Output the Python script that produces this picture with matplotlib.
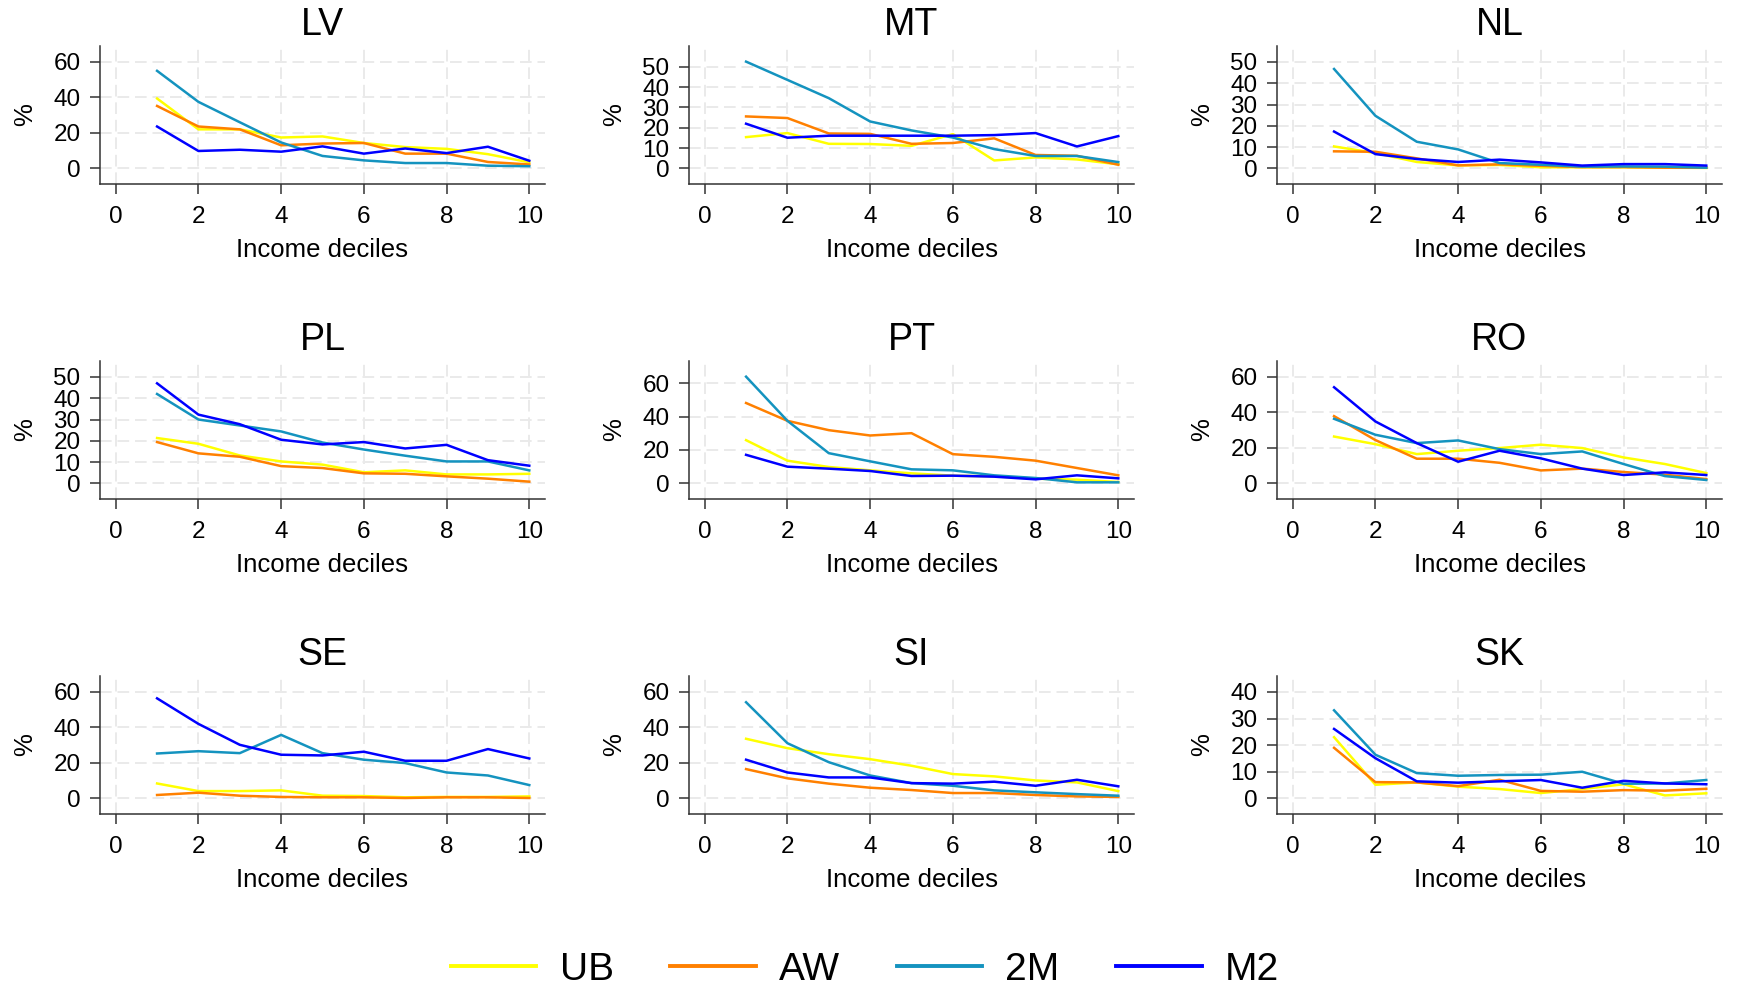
import numpy as np
import matplotlib.pyplot as plt

plt.rcParams['font.family'] = ['Liberation Sans', 'DejaVu Sans']

# Data: share (%) by income decile, four indicators per country
deciles = np.arange(1, 11)
series = ["UB", "AW", "2M", "M2"]
colors = ["#ffff00", "#ff8000", "#1493bf", "#0000ff"]

lv = {"UB": [39.4, 22, 22, 17.4, 18, 14.3, 12, 11, 8, 3.4],
      "AW": [35.2, 23.6, 22, 13, 14, 14.3, 8.3, 8.3, 3.6, 2.2],
      "2M": [55, 37.5, 26, 14.6, 7, 4.5, 3, 3, 1.5, 1.2],
      "M2": [23.6, 9.8, 10.5, 9.4, 12.4, 8.3, 11.2, 8.6, 12.2, 4.3]}
mt = {"UB": [15.4, 17.4, 12.1, 12, 11.1, 16.9, 3.9, 5.4, 4.4, 2],
      "AW": [25.6, 24.8, 17.2, 17, 12.1, 12.5, 14.8, 6.6, 6.2, 1.8],
      "2M": [52.6, 43.6, 34.6, 23.1, 18.7, 15.2, 9.5, 6.1, 6.1, 3.1],
      "M2": [22, 15.1, 16.1, 16.1, 16.1, 16.1, 16.4, 17.4, 10.8, 15.9]}
nl = {"UB": [10.3, 7.2, 3, 1.4, 1.6, 0.5, 0.5, 0.5, 0.3, 0.2],
      "AW": [8, 7.8, 4.7, 1.4, 1.9, 1.2, 0.6, 0.6, 0.3, 0.3],
      "2M": [46.7, 24.7, 12.5, 8.9, 2.5, 1.7, 0.8, 0.9, 0.8, 0.3],
      "M2": [17.3, 6.7, 4.4, 3, 4.1, 2.8, 1.3, 2, 2, 1.3]}
pl = {"UB": [21.3, 18.6, 13.1, 10.3, 8.8, 5.2, 6.1, 4.2, 4.2, 4.5],
      "AW": [19.4, 14.1, 12.5, 8.1, 7.2, 4.7, 4.5, 3.3, 2.2, 0.8],
      "2M": [42, 30, 27.2, 24.4, 19.2, 15.9, 13, 10.3, 10.3, 6.1],
      "M2": [47, 32.3, 27.8, 20.5, 18.3, 19.4, 16.4, 18.1, 10.9, 8.3]}
pt = {"UB": [25.9, 13.6, 9.8, 7.8, 6, 4.6, 4.2, 2.8, 2.2, 0.8],
      "AW": [48.2, 37.5, 31.9, 28.7, 30.1, 17.5, 15.9, 13.6, 9.2, 4.8],
      "2M": [64, 37.5, 18.1, 13.2, 8.4, 7.8, 4.8, 3.2, 0.6, 0.6],
      "M2": [17.1, 10, 8.8, 7.4, 4.4, 4.6, 4, 2.4, 4.8, 3]}
ro = {"UB": [26.4, 22.1, 16.5, 18.4, 19.9, 21.8, 19.9, 14.6, 10.9, 5.8],
      "AW": [37.9, 24.4, 13.9, 13.9, 11.6, 7.3, 8.3, 6.4, 4.9, 2.4],
      "2M": [36.4, 27.4, 22.7, 24.2, 19.3, 16.5, 18, 10.9, 4.1, 1.9],
      "M2": [54.2, 34.9, 22.7, 12.2, 18.4, 14.1, 8.3, 4.7, 6.2, 4.7]}
se = {"UB": [8.4, 4.1, 4.1, 4.5, 1.5, 1.3, 0.6, 0.8, 0.8, 1.1],
      "AW": [1.9, 3.2, 1.5, 0.8, 0.6, 0.6, 0.2, 0.6, 0.6, 0.2],
      "2M": [25.3, 26.6, 25.5, 35.8, 25.5, 21.8, 19.9, 14.6, 12.9, 7.5],
      "M2": [56.4, 42, 30.2, 24.6, 24.2, 26.3, 21.2, 21.2, 27.8, 22.5]}
si = {"UB": [33.6, 28.3, 24.9, 22.1, 18.4, 13.7, 12.4, 10.1, 9, 4.1],
      "AW": [16.5, 11.3, 8.3, 6, 4.7, 3, 3, 1.9, 1.1, 0.8],
      "2M": [54.2, 31.1, 20.4, 12.9, 8.6, 7.1, 4.5, 3.4, 2.4, 1.5],
      "M2": [21.8, 14.6, 11.8, 11.8, 8.6, 8.3, 9.4, 7.1, 10.5, 6.8]}
sk = {"UB": [23, 5.1, 6, 4.4, 3.5, 2, 3.5, 5.3, 1.1, 1.9],
      "AW": [19, 6.1, 6, 4.6, 7, 2.8, 2.5, 3.1, 2.9, 3.6],
      "2M": [33.1, 16.4, 9.5, 8.5, 8.8, 8.9, 10, 5.5, 5.6, 6.9],
      "M2": [26.1, 15.1, 6.4, 5.9, 6.4, 6.9, 4, 6.6, 5.6, 5.3]}

countries = ["LV", "MT", "NL", "PL", "PT", "RO", "SE", "SI", "SK"]
data = [lv, mt, nl, pl, pt, ro, se, si, sk]
# top tick and step for each y axis
ytop = [60, 50, 50, 50, 60, 60, 60, 60, 40]
ystep = [20, 10, 10, 10, 20, 20, 20, 20, 10]
ylims = {"MT": (-7.7, 60.3), "PT": (-9.4, 73.4)}

W, H = 1737, 990
fig = plt.figure(figsize=(W / 100, H / 100), dpi=100)

lefts = [100, 689, 1277]
tops = [46, 361, 676]
aw, ah = 445, 138

for i, c in enumerate(countries):
    l = lefts[i % 3]
    t = tops[i // 3]
    ax = fig.add_axes([l / W, 1 - (t + ah) / H, aw / W, ah / H])
    for s, col in zip(series, colors):
        ax.plot(deciles, data[i][s], color=col, lw=1.8, label=s)
    T = ytop[i]
    ax.set_ylim(ylims.get(c, (-0.147 * T, 1.15 * T)))
    ax.set_yticks(np.arange(0, T + 1, ystep[i]))
    ax.set_xlim(-0.38, 10.38)
    ax.set_xticks(np.arange(0, 11, 2))
    ax.grid(True, color="#eaeaea", lw=1.4, linestyle=(0, (6, 3)))
    ax.set_axisbelow(True)
    for sp in ["top", "right"]:
        ax.spines[sp].set_visible(False)
    for sp in ["left", "bottom"]:
        ax.spines[sp].set_color("#333333")
        ax.spines[sp].set_linewidth(1.1)
    ax.tick_params(labelsize=17.5, length=7, width=1.1, color="#333333", pad=7)
    ax.tick_params(axis="x", pad=9)
    ax.set_title(c, fontsize=27, pad=8)
    ax.set_xlabel("Income deciles", fontsize=18.5, labelpad=7)
    ax.set_ylabel("%", fontsize=18.5, labelpad=12)

handles, labels = ax.get_legend_handles_labels()
leg = fig.legend(handles, labels, loc="center", bbox_to_anchor=(0.498, 1 - 970 / H),
                 ncol=4, frameon=False, fontsize=28, handlelength=2.2,
                 handletextpad=0.6, columnspacing=1.45)
for ln in leg.get_lines():
    ln.set_linewidth(2.8)

fig.savefig("out.png", dpi=100)
